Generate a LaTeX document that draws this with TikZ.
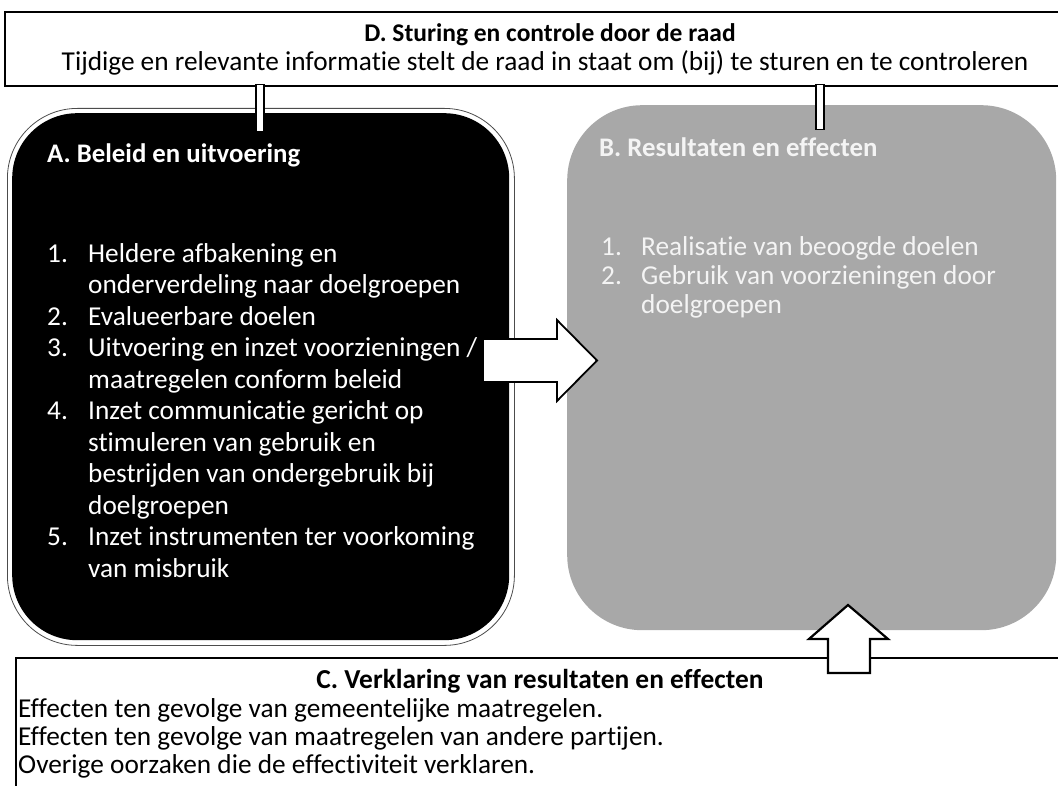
\documentclass[tikz,border=0pt]{standalone}
\usepackage{fontspec}
\setmainfont{Carlito}[Ligatures=NoCommon]
\usepackage{array}
\definecolor{bgray}{HTML}{A8A8A8}
\definecolor{btext}{HTML}{F4F4F4}
\begin{document}
\begin{tikzpicture}[x=1pt,y=-1pt,
  frame/.style={draw=black, line width=2.2pt, fill=white, inner sep=0pt, anchor=north west},
  txt/.style={inner sep=0pt, font=\fontsize{27.3}{31.5}\selectfont},
  btxt/.style={inner sep=0pt, font=\bfseries\fontsize{26.8}{31.5}\selectfont},
  barsty/.style={draw=black, line width=1.4pt, fill=white, inner sep=0pt, anchor=north, minimum width=8pt},
  blockarrow/.style={draw=black, fill=white, line join=miter}
]
\useasboundingbox (0,0) rectangle (1058,786);

% D box
\node[frame, minimum width=1070pt, minimum height=74pt] (D) at (4,11) {};
\node[inner sep=0pt, font=\bfseries\fontsize{25.5}{30}\selectfont, anchor=base] (Dtitle) at (550,42) {D. Sturing en controle door de raad};
\node[txt, anchor=base] (Dline) at (545,71) {Tijdige en relevante informatie stelt de raad in staat om (bij) te sturen en te controleren};

% A box
\node[draw=black!70, line width=0.8pt, rounded corners=70pt, inner sep=0pt,
      minimum width=507pt, minimum height=537pt, anchor=north west] (Aout) at (7,108) {};
\node[fill=black, rounded corners=65pt, inner sep=0pt,
      minimum width=497pt, minimum height=527pt, anchor=north west] (A) at (12,113) {};
\node[btxt, text=white, anchor=base west] (Ah) at (47,163) {A. Beleid en uitvoering};
\node[txt, text=white, anchor=north west] (Alist) at (47,240) {%
\begin{tabular}{@{}p{41pt}@{}l@{}}
1. & Heldere afbakening en\\
   & onderverdeling naar doelgroepen\\
2. & Evalueerbare doelen\\
3. & Uitvoering en inzet voorzieningen /\\
   & maatregelen conform beleid\\
4. & Inzet communicatie gericht op\\
   & stimuleren van gebruik en\\
   & bestrijden van ondergebruik bij\\
   & doelgroepen\\
5. & Inzet instrumenten ter voorkoming\\
   & van misbruik
\end{tabular}};

% B box
\node[fill=bgray, rounded corners=75pt, inner sep=0pt,
      minimum width=489pt, minimum height=525pt, anchor=north west] (B) at (567,105) {};
\node[btxt, text=btext, anchor=base west] (Bh) at (599,157) {B. Resultaten en effecten};
\node[inner sep=0pt, font=\fontsize{27.3}{29}\selectfont, text=btext, anchor=north west] (Blist) at (601,234.7) {%
\begin{tabular}{@{}p{40pt}@{}l@{}}
1. & Realisatie van beoogde doelen\\
2. & Gebruik van voorzieningen door\\
   & doelgroepen
\end{tabular}};

% connector bars from D
\node[barsty, minimum height=47pt] (barA) at (260,84) {};
\node[barsty, minimum height=45pt] (barB) at (820,84) {};

% right block arrow A -> B
\draw[blockarrow, line width=1.8pt] (483,339) -- (557,339) -- (557,320) -- (597,360.5)
  -- (557,401) -- (557,382) -- (483,382) -- cycle;

% C box
\node[frame, minimum width=1070pt, minimum height=150pt] (C) at (15,657) {};
\node[inner sep=0pt, font=\bfseries\fontsize{27.4}{28}\selectfont, anchor=base] (Ct) at (540,688) {C. Verklaring van resultaten en effecten};
\node[inner sep=0pt, font=\fontsize{27.3}{28}\selectfont, anchor=north west] (Clist) at (18,697.4) {%
\begin{tabular}{@{}l@{}}
Effecten ten gevolge van gemeentelijke maatregelen.\\
Effecten ten gevolge van maatregelen van andere partijen.\\
Overige oorzaken die de effectiviteit verklaren.
\end{tabular}};

% up block arrow C -> B
\draw[blockarrow, line width=2.2pt] (828,673) -- (828,639) -- (809,639) -- (848,605)
  -- (888,639) -- (870,639) -- (870,673) -- cycle;
\end{tikzpicture}
\end{document}
